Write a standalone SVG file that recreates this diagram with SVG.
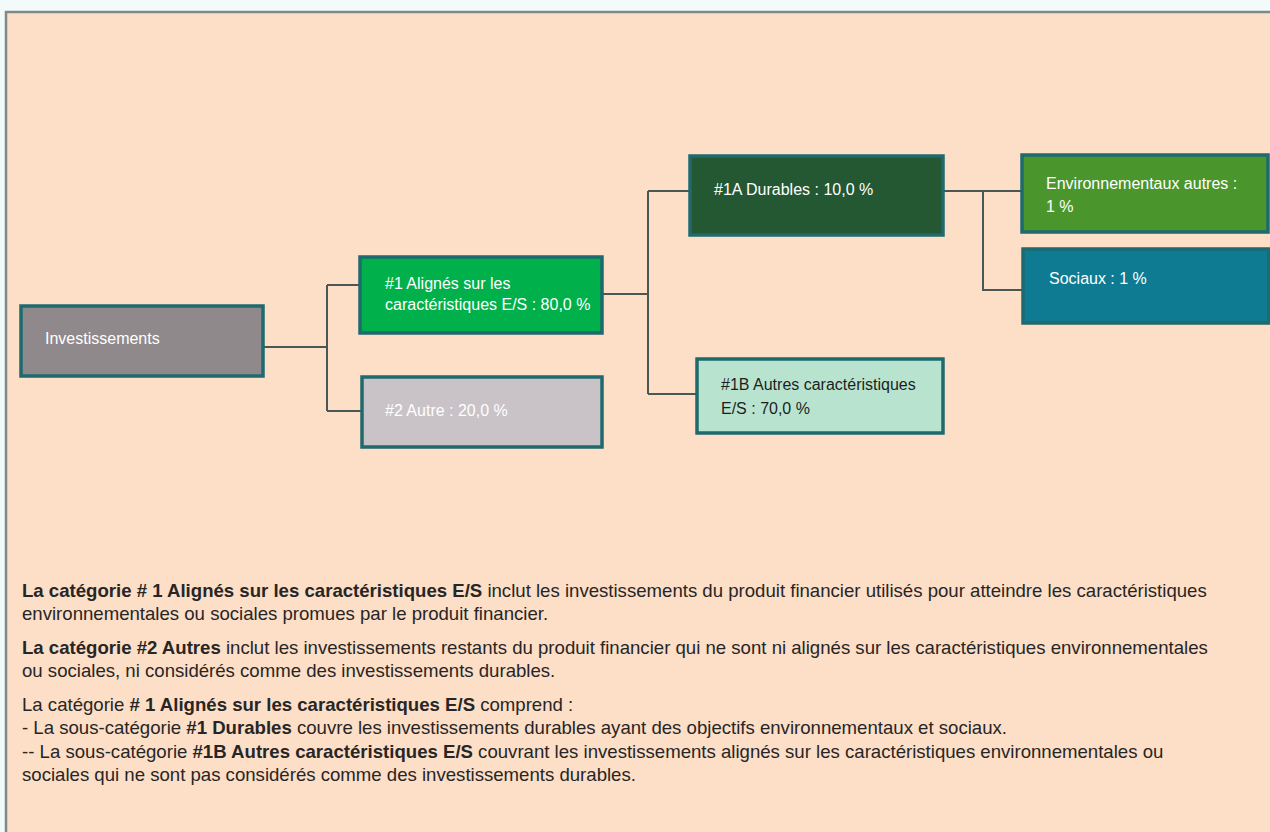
<svg xmlns="http://www.w3.org/2000/svg" width="1270" height="832" viewBox="0 0 1270 832">
<style>
.node rect{stroke:#1E6A6E;stroke-width:3.5}
.lbl{font-family:"Liberation Sans",Arial,sans-serif;font-size:16px;fill:#FFFFFF}
.dark{fill:#1E1E1E}
.conn path{fill:none;stroke:#4B5753;stroke-width:2}
.body{font-family:"Liberation Sans",Arial,sans-serif;font-size:18.6px;fill:#262626}
.b{font-weight:bold}
</style>
<rect x="0" y="0" width="1270" height="832" fill="#F3FAFA"/>
<rect x="6" y="12" width="1264" height="820" fill="#FDDEC6"/>
<path d="M6 832 V12 H1270" fill="none" stroke="#7D8A88" stroke-width="2.5"/>
<g class="conn">
<path d="M263 347 H327 M327 285 V411 M327 285 H359 M327 411 H361"/>
<path d="M602 294 H648 M648 191 V394 M648 191 H690 M648 394 H697"/>
<path d="M943 191 H1021 M983 191 V290 H1022"/>
</g>
<g id="n-invest" class="node"><rect x="21" y="306" width="242" height="70" fill="#8F898C"/><text class="lbl" x="45" y="344">Investissements</text></g>
<g id="n-1" class="node"><rect x="360" y="257" width="242" height="76" fill="#00B04A"/><text class="lbl" x="385" y="289">#1 Alignés sur les</text><text class="lbl" x="385" y="310">caractéristiques E/S : 80,0 %</text></g>
<g id="n-2" class="node"><rect x="362" y="377" width="240" height="70" fill="#C9C3C8"/><text class="lbl" x="385" y="416" fill="#F6F6F6">#2 Autre : 20,0 %</text></g>
<g id="n-1a" class="node"><rect x="690" y="156" width="253" height="79" fill="#245833"/><text class="lbl" x="714" y="195">#1A Durables : 10,0 %</text></g>
<g id="n-1b" class="node"><rect x="697" y="359" width="246" height="74" fill="#B8E4CF"/><text class="lbl dark" x="721" y="390">#1B Autres caractéristiques</text><text class="lbl dark" x="721" y="414">E/S : 70,0 %</text></g>
<g id="n-env" class="node"><rect x="1022" y="155" width="246" height="77" fill="#4A962D" stroke-width="2"/><text class="lbl" x="1046" y="189">Environnementaux autres :</text><text class="lbl" x="1046" y="212">1 %</text></g>
<g id="n-soc" class="node"><rect x="1023" y="249" width="246" height="74" fill="#0E7B92" stroke="none"/><text class="lbl" x="1049" y="284">Sociaux : 1 %</text></g>
<g id="notes">
<text class="body" x="22" y="597"><tspan class="b">La catégorie # 1 Alignés sur les caractéristiques E/S</tspan> inclut les investissements du produit financier utilisés pour atteindre les caractéristiques</text>
<text class="body" x="22" y="620">environnementales ou sociales promues par le produit financier.</text>
<text class="body" x="22" y="654"><tspan class="b">La catégorie #2 Autres</tspan> inclut les investissements restants du produit financier qui ne sont ni alignés sur les caractéristiques environnementales</text>
<text class="body" x="22" y="677">ou sociales, ni considérés comme des investissements durables.</text>
<text class="body" x="22" y="711">La catégorie <tspan class="b"># 1 Alignés sur les caractéristiques E/S</tspan> comprend :</text>
<text class="body" x="22" y="734">- La sous-catégorie <tspan class="b">#1 Durables</tspan> couvre les investissements durables ayant des objectifs environnementaux et sociaux.</text>
<text class="body" x="22" y="758">-- La sous-catégorie <tspan class="b">#1B Autres caractéristiques E/S</tspan> couvrant les investissements alignés sur les caractéristiques environnementales ou</text>
<text class="body" x="22" y="781">sociales qui ne sont pas considérés comme des investissements durables.</text>
</g>
</svg>
